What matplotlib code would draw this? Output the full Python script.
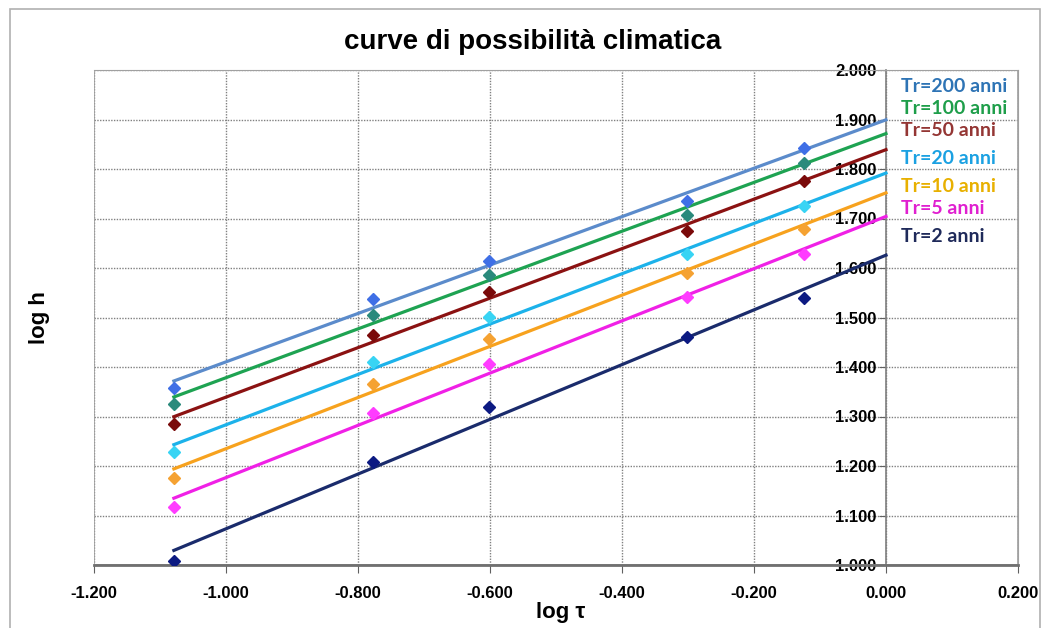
import numpy as np
import matplotlib
matplotlib.use("Agg")
import matplotlib.pyplot as plt
from matplotlib.patches import Rectangle

plt.rcParams['font.family'] = ['Liberation Sans', 'DejaVu Sans']

# log of duration (hours): 5, 10, 15, 30, 45 min
log_tau = [-1.079, -0.778, -0.602, -0.301, -0.125]

return_periods = ["Tr=200 anni", "Tr=100 anni", "Tr=50 anni", "Tr=20 anni",
                  "Tr=10 anni", "Tr=5 anni", "Tr=2 anni"]

log_h_200 = [1.358, 1.537, 1.614, 1.735, 1.842]
log_h_100 = [1.325, 1.505, 1.586, 1.707, 1.812]
log_h_50 = [1.285, 1.465, 1.552, 1.675, 1.776]
log_h_20 = [1.228, 1.410, 1.501, 1.628, 1.725]
log_h_10 = [1.176, 1.366, 1.457, 1.590, 1.679]
log_h_5 = [1.117, 1.307, 1.406, 1.541, 1.628]
log_h_2 = [1.008, 1.208, 1.319, 1.461, 1.539]

x_ticks = [-1.2, -1.0, -0.8, -0.6, -0.4, -0.2, 0.0, 0.2]
y_ticks = [1.0, 1.1, 1.2, 1.3, 1.4, 1.5, 1.6, 1.7, 1.8, 1.9, 2.0]

series = [log_h_200, log_h_100, log_h_50, log_h_20, log_h_10, log_h_5, log_h_2]
line_colors = ['#5b8bcb', '#1ea352', '#8b1212', '#1cb2ea', '#f7a21e', '#f020e6', '#1a2b6c']
marker_colors = ['#3f6fe6', '#2a8a7c', '#7a0a0a', '#38d4f4', '#f5a232', '#ff3cff', '#0c1a82']
text_colors = ['#2e74b5', '#1e9e4a', '#943634', '#1ba1e2', '#e8b000', '#e020d0', '#1f2a5a']
label_y_px = [87, 109, 131, 159, 186, 209, 237]

fig = plt.figure(figsize=(10.46, 6.28), dpi=100)
ax = fig.add_axes([94 / 1046, 63 / 628, 924 / 1046, 495 / 628])

# outer chart border
fig.patches.append(Rectangle((10 / 1046, -0.02), 1030 / 1046, 1.02 - 9 / 628,
                             transform=fig.transFigure, fill=False,
                             edgecolor='#b0b0b0', linewidth=1.2))

# y axis crosses at x = 0 (set before tick formatting, it resets ticks)
ax.spines['left'].set_position(('data', 0))
ax.spines['left'].set_color('#808080')
ax.spines['left'].set_linewidth(1.2)
ax.spines['bottom'].set_color('#707070')
ax.spines['bottom'].set_linewidth(2.0)
for s in ['top', 'right']:
    ax.spines[s].set_color('#a0a0a0')
ax.add_patch(Rectangle((0, 0), 1, 1, transform=ax.transAxes, fill=False,
                       edgecolor='#a0a0a0', linewidth=1.2, zorder=1))

x_line = np.array([log_tau[0], 0.0])
for ys, lc, mc in zip(series, line_colors, marker_colors):
    k, b = np.polyfit(log_tau, ys, 1)
    ax.plot(x_line, k * x_line + b, color=lc, lw=2.3, zorder=3)
    ax.plot(log_tau, ys, 'D', color=mc, markersize=6.5, zorder=4, lw=0)

ax.set_xlim(-1.2, 0.2)
ax.set_ylim(1.0, 2.0)
ax.set_xticks(x_ticks)
ax.set_yticks(y_ticks)
ax.set_xticklabels([f"{v:.3f}" for v in x_ticks], fontweight='bold', fontsize=12)
ax.set_yticklabels([f"{v:.3f}" for v in y_ticks], fontweight='bold', fontsize=12)
ax.grid(True, linestyle=(0, (1, 1)), color='#808080', linewidth=1.0)
ax.set_axisbelow(True)
ax.tick_params(axis='x', direction='out', length=6, color='#606060', pad=9)
ax.tick_params(axis='y', direction='out', length=5, color='#606060', pad=2)

ax.set_xlabel('log τ', fontsize=16, fontweight='bold')
ax.xaxis.set_label_coords(0.505, -0.075)
fig.text(40 / 1046, 1 - 318 / 628, 'log h', rotation=90, fontsize=16,
         fontweight='bold', ha='center', va='center')
fig.text(533 / 1046, 1 - 42 / 628, 'curve di possibilità climatica', fontsize=20,
         fontweight='bold', ha='center', va='center')

for lab, c, ypx in zip(return_periods, text_colors, label_y_px):
    fig.text(901 / 1046, 1 - ypx / 628, lab, color=c, fontsize=14,
             fontweight='bold', ha='left', va='center', family=['Lato', 'DejaVu Sans'])

fig.savefig('out.png', dpi=100)
